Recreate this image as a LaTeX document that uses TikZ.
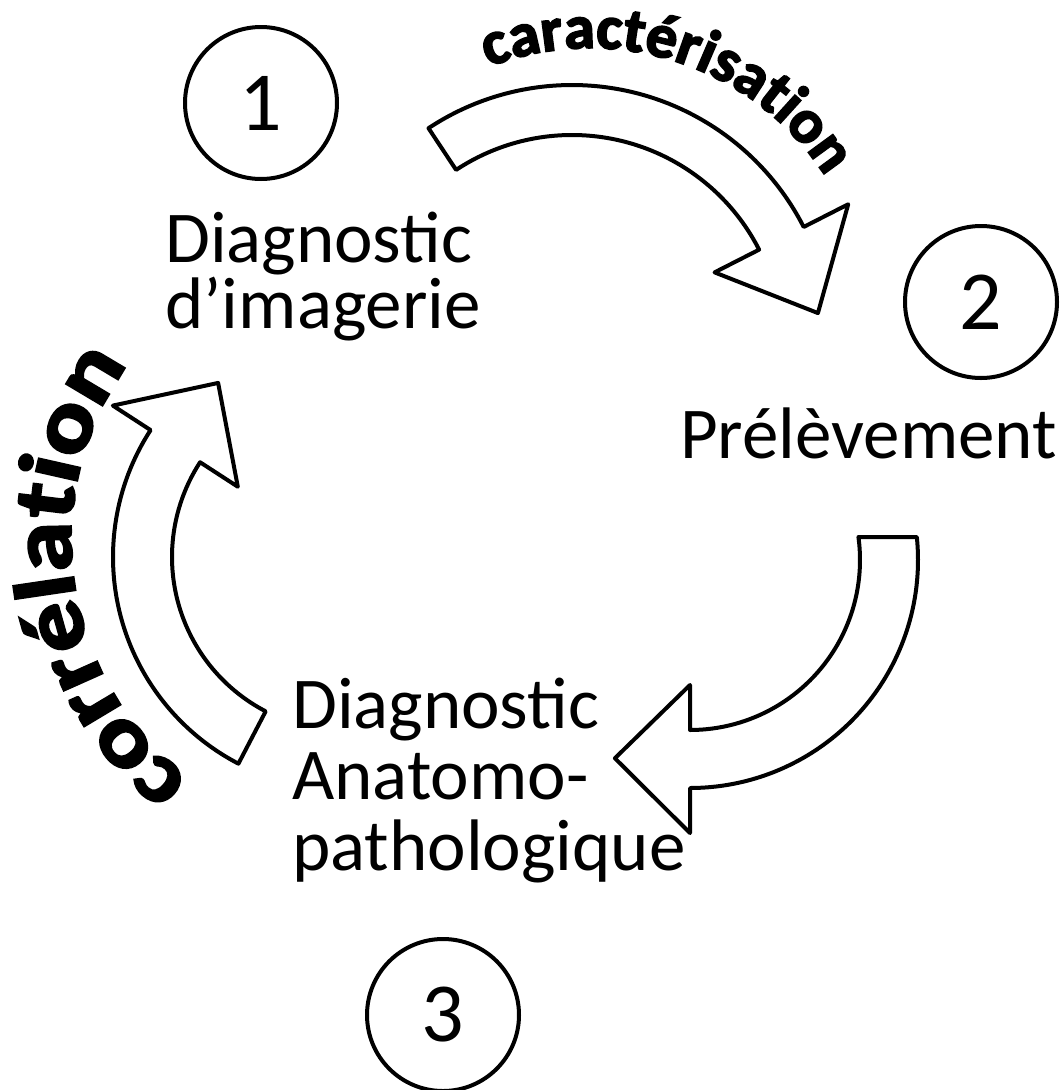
\documentclass[tikz,border=0pt]{standalone}
\usepackage{fontspec}
\setmainfont{Carlito}
\newfontfamily\heavyfont{Carlito}[BoldFeatures={FakeBold=3}]
\newfontfamily\wideheavyfont{Carlito}[BoldFeatures={FakeBold=3,FakeStretch=1.18}]
\usetikzlibrary{decorations.text}
\begin{document}
\begin{tikzpicture}[x=1pt,y=1pt,
  blockarrow/.style={draw=black, fill=white, line width=4pt, line join=round},
  numcircle/.style={circle, draw=black, line width=4pt, minimum size=152pt, inner sep=0pt, font=\fontsize{84}{84}\selectfont},
  steptext/.style={align=left, anchor=base west, inner sep=0pt}
]
\useasboundingbox (0,0) rectangle (1064,-1090);
\fill[white] (0,0) rectangle (1064,-1090);

% step circles
\node[numcircle] (n1) at (261,-103) {1};
\node[numcircle] (n2) at (981,-302) {2};
\node[numcircle] (n3) at (443,-1015) {3};

% step texts (anchor = baseline of the last line)
\node[steptext, font=\fontsize{73}{66}\selectfont] (t1) at (165,-328) {Diagnostic\\d’imagerie};
\node[steptext, font=\fontsize{73}{66}\selectfont] (t2) at (680,-458) {Prélèvement};
\node[steptext, font=\fontsize{73}{71}\selectfont] (t3) at (292,-870) {Diagnostic\\Anatomo-\\pathologique};

% arrow centres
\coordinate (ca) at (572,-345);
\coordinate (cb) at (690,-560);
\coordinate (cc) at (346,-557);

% top arrow
\draw[blockarrow] ([shift={(123.5:260)}]ca) arc[start angle=123.5, end angle=27, radius=260pt]
  -- ([shift={(27:310)}]ca) -- ([shift={(7.4:248)}]ca) -- ([shift={(27:160)}]ca)
  -- ([shift={(27:210)}]ca) arc[start angle=27, end angle=123.5, radius=210pt] -- cycle;

% right arrow
\draw[blockarrow] ([shift={(5.79:228)}]cb) arc[start angle=5.79, end angle=-90, radius=228pt]
  -- ([shift={(-90:273)}]cb) -- ([shift={(-110.75:212)}]cb) -- ([shift={(-90:125)}]cb)
  -- ([shift={(-90:170)}]cb) arc[start angle=-90, end angle=7.77, radius=170pt] -- cycle;

% left arrow
\draw[blockarrow] ([shift={(242.5:233)}]cc) arc[start angle=242.5, end angle=147, radius=233pt]
  -- ([shift={(147:278)}]cc) -- ([shift={(126.3:216)}]cc) -- ([shift={(147:129)}]cc)
  -- ([shift={(147:174)}]cc) arc[start angle=147, end angle=242.5, radius=174pt] -- cycle;

% curved labels
\coordinate (tca) at (590,-328);
\coordinate (tcc) at (370,-540);
\path[decorate, decoration={text along path, text align=center,
  text={|\heavyfont\bfseries\fontsize{62}{70}\selectfont|caractérisation}}]
  ([shift={(122:280)}]tca) arc[start angle=122, end angle=22, radius=280pt];
\path[decorate, decoration={text along path, text align=center,
  text={|\wideheavyfont\bfseries\fontsize{86}{90}\selectfont|corrélation}}]
  ([shift={(243.5:299)}]tcc) arc[start angle=243.5, end angle=133.5, radius=299pt];
\end{tikzpicture}
\end{document}
